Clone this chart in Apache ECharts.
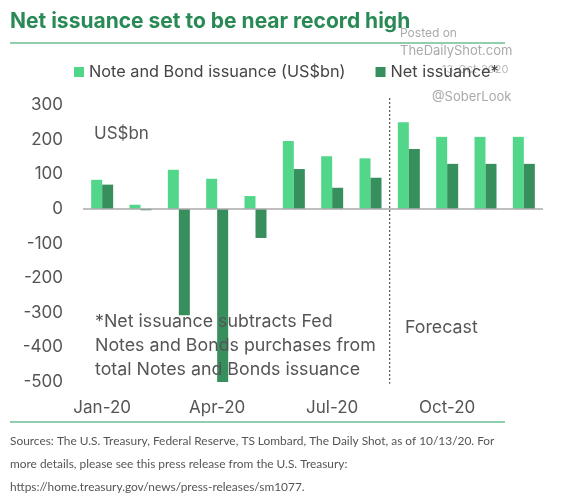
<!DOCTYPE html>
<html>
<head>
<meta charset="utf-8">
<script src="https://cdn.jsdelivr.net/npm/echarts@6/dist/echarts.min.js"></script>
<style>
  html, body { margin: 0; padding: 0; background: #fff; }
  #chart { width: 562px; height: 504px; }
</style>
</head>
<body>
<div id="chart"></div>
<script>
// note/bond issuance vs net issuance, monthly 2020 (Sep onward = forecast)
const months = ['Jan-20', 'Feb-20', 'Mar-20', 'Apr-20', 'May-20', 'Jun-20',
    'Jul-20', 'Aug-20', 'Sep-20', 'Oct-20', 'Nov-20', 'Dec-20'];
const grossIssuance = [84, 12, 113, 87, 37, 196, 152, 146, 250, 208, 208, 208];
const netIssuance = [70, -4, -307, -505, -84, 115, 61, 90, 173, 130, 130, 130];
const yTicks = { min: -500, max: 300, interval: 100 };
// dashed divider before the forecast months (position in category units)
const forecastStart = 8;
const dividerSpan = [320, -505];

const FONT = 'Inter';
const chart = echarts.init(document.getElementById('chart'));

const option = {
    backgroundColor: '#fff',
    animation: false,
    textStyle: { fontFamily: FONT },
    legend: {
        data: ['Note and Bond issuance (US$bn)', 'Net issuance*'],
        left: 69,
        top: 59,
        icon: 'rect',
        itemWidth: 10,
        itemHeight: 10,
        itemGap: 30,
        textStyle: { fontSize: 16.3, color: '#444', fontFamily: FONT }
    },
    grid: { left: 83, right: 19, top: 105, bottom: 122 },
    xAxis: [{
        type: 'category',
        data: months,
        axisLine: { show: false },
        axisTick: { show: false },
        axisLabel: { interval: 2, fontSize: 17, color: '#555', margin: 17 }
    }, {
        type: 'value',
        min: 0,
        max: months.length,
        show: false
    }],
    yAxis: {
        type: 'value',
        min: yTicks.min,
        max: yTicks.max,
        interval: yTicks.interval,
        splitLine: { show: false },
        axisLine: { show: false },
        axisTick: { show: false },
        axisLabel: { fontSize: 17, color: '#555', margin: 20 }
    },
    series: [{
        name: 'Note and Bond issuance (US$bn)',
        type: 'bar',
        barWidth: 11,
        barGap: '0%',
        itemStyle: { color: '#52d68a' },
        data: grossIssuance,
        markLine: {
            silent: true,
            symbol: 'none',
            label: { show: false },
            lineStyle: { color: '#aaa', type: 'solid', width: 1.5 },
            data: [{ yAxis: 0 }]
        }
    }, {
        name: 'Net issuance*',
        type: 'bar',
        barWidth: 11,
        itemStyle: { color: '#368f5c' },
        data: netIssuance
    }, {
        name: 'forecast',
        type: 'line',
        xAxisIndex: 1,
        clip: false,
        symbol: 'none',
        lineStyle: { color: '#555', type: [2, 2], width: 1.2 },
        data: dividerSpan.map(v => [forecastStart, v])
    }],
    graphic: [
        { type: 'text', left: 10, top: 11, style: { text: 'Net issuance set to be near record high', fontSize: 21, fontWeight: 'bold', fill: '#2a8a56', fontFamily: FONT } },
        { type: 'line', shape: { x1: 10, y1: 43, x2: 505, y2: 43 }, style: { stroke: '#8fcfae', lineWidth: 2 } },
        { type: 'text', left: 400, top: 27, style: { text: 'Posted on', fontSize: 12, fill: '#aaa', fontFamily: FONT } },
        { type: 'text', left: 400, top: 45, style: { text: 'TheDailyShot.com', fontSize: 13, fill: '#aaa', fontFamily: FONT } },
        { type: 'text', left: 442, top: 64, z: -1, style: { text: '13-Oct-2020', fontSize: 11, fill: '#bbb', fontFamily: FONT } },
        { type: 'text', left: 432, top: 91, style: { text: '@SoberLook', fontSize: 13, fill: '#aaa', fontFamily: FONT } },
        { type: 'text', left: 94, top: 125, style: { text: 'US$bn', fontSize: 17, fill: '#555', fontFamily: FONT } },
        { type: 'text', left: 95, top: 310, z: 100, style: { text: '*Net issuance subtracts Fed\nNotes and Bonds purchases from\ntotal Notes and Bonds issuance', fontSize: 17.8, lineHeight: 24, fill: '#555', fontFamily: FONT } },
        { type: 'text', left: 405, top: 319, style: { text: 'Forecast', fontSize: 17.8, fill: '#555', fontFamily: FONT } },
        { type: 'line', shape: { x1: 10, y1: 422, x2: 505, y2: 422 }, style: { stroke: '#8fcfae', lineWidth: 2 } },
        { type: 'text', left: 10, top: 430, style: { text: 'Sources: The U.S. Treasury, Federal Reserve, TS Lombard, The Daily Shot, as of 10/13/20. For\nmore details, please see this press release from the U.S. Treasury:\nhttps://home.treasury.gov/news/press-releases/sm1077.', fontSize: 11.9, lineHeight: 23, fill: '#555', fontFamily: 'Lato' } }
    ]
};

chart.setOption(option);
</script>
</body>
</html>
